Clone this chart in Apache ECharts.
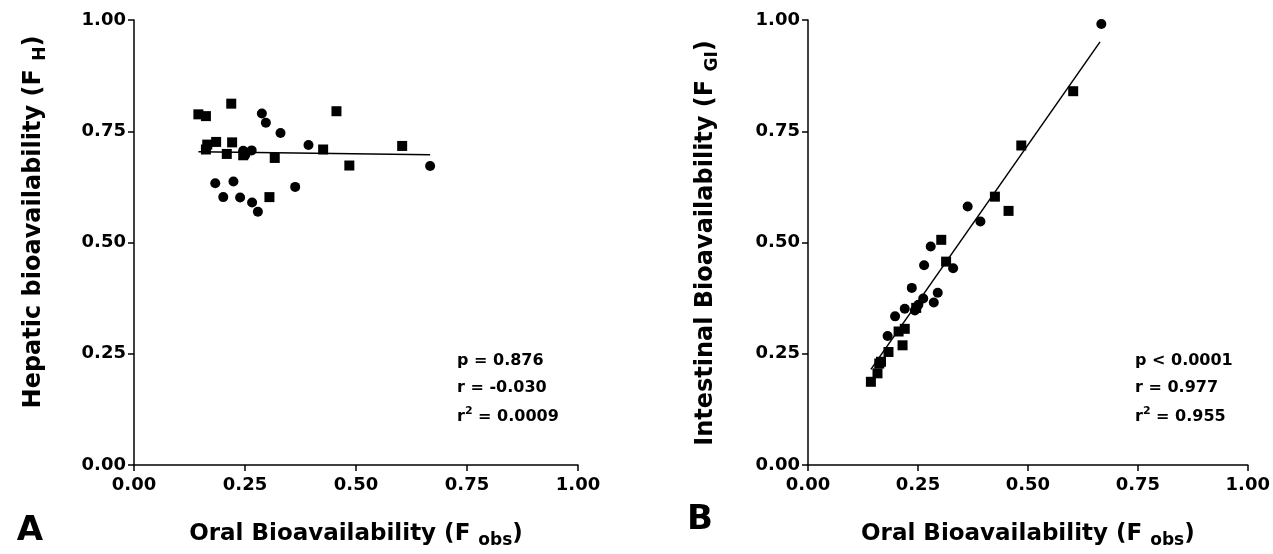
<!DOCTYPE html>
<html><head><meta charset="utf-8">
<script src="https://cdn.jsdelivr.net/npm/echarts@6/dist/echarts.min.js"></script>
<style>html,body{margin:0;padding:0;background:#fff}#c{width:1273px;height:554px}</style>
</head><body><div id="c"></div>
<script>
// ---- data ----
const xTickValues = [0, 0.25, 0.5, 0.75, 1];
// Panel A: x = oral bioavailability (Fobs), y = hepatic bioavailability (FH)
const hepaticSquares = [[0.145,0.788],[0.162,0.784],[0.219,0.812],[0.456,0.795],[0.165,0.720],[0.185,0.726],[0.162,0.709],[0.221,0.725],[0.209,0.699],[0.246,0.696],[0.317,0.690],[0.426,0.709],[0.485,0.673],[0.604,0.717],[0.305,0.602]];
const hepaticCircles = [[0.288,0.790],[0.297,0.769],[0.330,0.746],[0.393,0.719],[0.246,0.706],[0.251,0.697],[0.265,0.707],[0.667,0.672],[0.183,0.633],[0.224,0.637],[0.363,0.625],[0.201,0.602],[0.239,0.601],[0.266,0.590],[0.279,0.569]];
const hepaticFit = [[0.145,0.704],[0.667,0.697]];
// Panel B: x = oral bioavailability (Fobs), y = intestinal bioavailability (FGI)
const intestinalSquares = [[0.143,0.187],[0.158,0.206],[0.215,0.269],[0.456,0.571],[0.166,0.232],[0.183,0.254],[0.162,0.228],[0.220,0.306],[0.206,0.300],[0.246,0.353],[0.314,0.457],[0.425,0.603],[0.485,0.718],[0.603,0.840],[0.303,0.506]];
const intestinalCircles = [[0.286,0.365],[0.295,0.387],[0.330,0.442],[0.392,0.547],[0.243,0.347],[0.251,0.360],[0.262,0.374],[0.667,0.991],[0.181,0.290],[0.220,0.351],[0.363,0.581],[0.198,0.334],[0.236,0.398],[0.264,0.449],[0.279,0.491]];
const intestinalFit = [[0.143,0.215],[0.664,0.951]];
const statsA = ['p = 0.876', 'r = -0.030', 'r{sup|2} = 0.0009'];
const statsB = ['p < 0.0001', 'r = 0.977', 'r{sup|2} = 0.955'];

// ---- chart ----
const FF = 'DejaVu Sans';
const chart = echarts.init(document.getElementById('c'), null, {renderer:'canvas'});

function xAxis(gi){
  return {
    type:'value', gridIndex:gi, min:0, max:1, interval:0.25,
    axisLine:{lineStyle:{color:'#000', width:1.5}},
    axisTick:{length:6, lineStyle:{color:'#000', width:1.5}},
    splitLine:{show:false},
    axisLabel:{color:'#000', fontFamily:FF, fontWeight:'bold', fontSize:18, margin:11,
      formatter:v=>v.toFixed(2)},
    name:'Oral Bioavailability (F {s|obs})', nameLocation:'middle', nameGap:54,
    nameTextStyle:{color:'#000', fontFamily:FF, fontWeight:'bold', fontSize:23, lineHeight:30,
      rich:{s:{fontFamily:FF, fontWeight:'bold', fontSize:17, lineHeight:14, verticalAlign:'bottom', color:'#000'}}}
  };
}
function yAxis(gi){
  return {
    type:'value', gridIndex:gi, min:0, max:1, interval:0.25,
    axisLine:{lineStyle:{color:'#000', width:1.5}},
    axisTick:{length:6, lineStyle:{color:'#000', width:1.5}},
    splitLine:{show:false},
    axisLabel:{color:'#000', fontFamily:FF, fontWeight:'bold', fontSize:18, margin:8,
      formatter:v=>v.toFixed(2)}
  };
}
function scat(gi, data, sym){
  return {type:'scatter', xAxisIndex:gi, yAxisIndex:gi, data:data, symbol:sym, symbolSize:10,
    itemStyle:{color:'#000', opacity:1}, silent:true, z:3};
}
function fit(gi, data){
  return {type:'line', xAxisIndex:gi, yAxisIndex:gi, data:data, showSymbol:false, symbol:'none',
    lineStyle:{color:'#000', width:1.5}, silent:true, z:2};
}
function yTitle(x, y, text){
  return {type:'text', x:x, y:y, rotation:Math.PI/2,
    style:{text:text, fill:'#000', font:'bold 24px "DejaVu Sans"', lineHeight:30, align:'center', verticalAlign:'middle',
      rich:{s:{fill:'#000', fontFamily:FF, fontWeight:'bold', fontSize:17, lineHeight:14, verticalAlign:'bottom'}}}};
}
function stat(x, y, text){
  return {type:'text', x:x, y:y,
    style:{text:text, fill:'#000', font:'bold 16px "DejaVu Sans"', lineHeight:22, align:'left', verticalAlign:'middle',
      rich:{sup:{fill:'#000', fontFamily:FF, fontWeight:'bold', fontSize:11, lineHeight:10, verticalAlign:'top'}}}};
}
const statYs = [361, 388, 417];
const graphics = [
  yTitle(34, 222, 'Hepatic bioavailability (F {s|H})'),
  yTitle(706, 243, 'Intestinal Bioavailability (F {s|GI})'),
  {type:'text', x:30, y:531, style:{text:'A', fill:'#000', font:'bold 34px "DejaVu Sans"', align:'center', verticalAlign:'middle'}},
  {type:'text', x:700, y:520, style:{text:'B', fill:'#000', font:'bold 34px "DejaVu Sans"', align:'center', verticalAlign:'middle'}}
];
statsA.forEach((t,i)=>graphics.push(stat(457, statYs[i], t)));
statsB.forEach((t,i)=>graphics.push(stat(1135, statYs[i], t)));

chart.setOption({
  animation:false,
  backgroundColor:'#fff',
  grid:[
    {left:134, top:20, width:444, height:447},
    {left:808, top:20, width:444, height:447}
  ],
  xAxis:[xAxis(0), xAxis(1)],
  yAxis:[yAxis(0), yAxis(1)],
  series:[
    fit(0, hepaticFit), scat(0, hepaticSquares, 'rect'), scat(0, hepaticCircles, 'circle'),
    fit(1, intestinalFit), scat(1, intestinalSquares, 'rect'), scat(1, intestinalCircles, 'circle')
  ],
  graphic:graphics
});
</script>
</body></html>
